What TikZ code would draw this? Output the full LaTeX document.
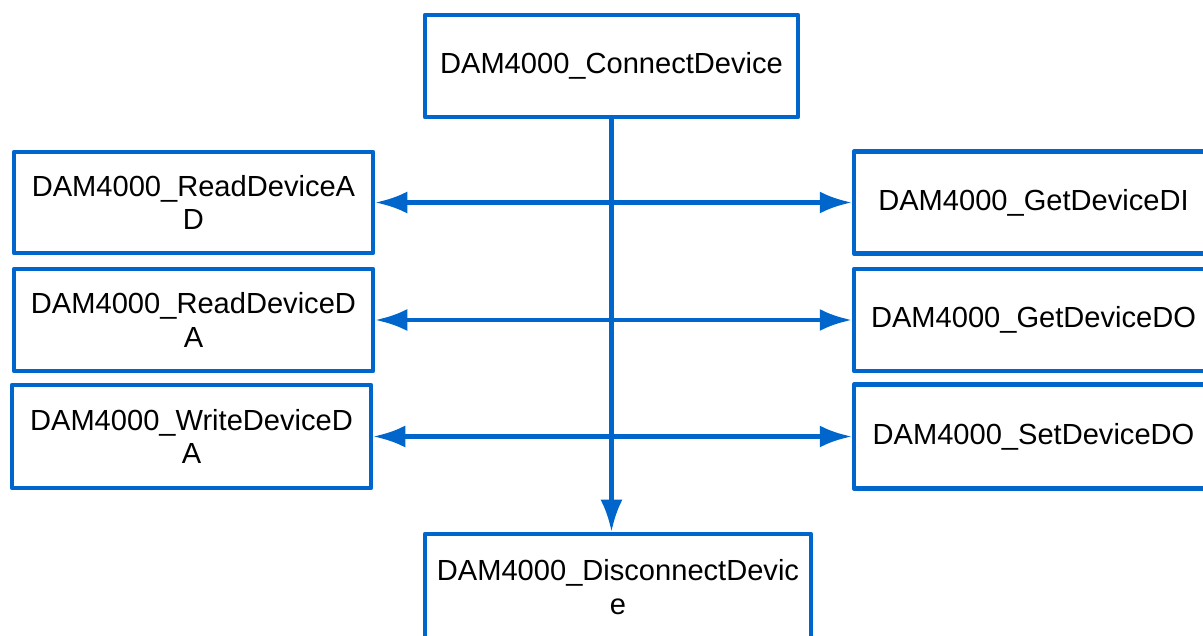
\documentclass[tikz,border=0pt]{standalone}
\usepackage{fontspec}
\setmainfont{Liberation Sans}
\usetikzlibrary{arrows.meta}

\begin{document}
\begin{tikzpicture}[>={Latex[length=32bp,width=22bp]},line join=round,
	box/.style={draw=linecol,line width=4.5bp,fill=white,align=center,inner sep=0pt,
		font=\fontsize{29.2}{33.5}\selectfont},
	link/.style={draw=linecol,line width=4.5bp}]
	\definecolor{linecol}{RGB}{0,102,204}
	\useasboundingbox (0bp,0bp) rectangle (1203bp,636bp);
	\clip (0bp,0bp) rectangle (1203bp,636bp);
	%%
	\node (conn) at (611.5bp,570bp) [box,minimum width=373bp,minimum height=102bp] {DAM4000\_ConnectDevice};
	  \node (disc) at (618bp,49bp) [box,minimum width=386bp,minimum height=106bp] {DAM4000\_DisconnectDevic\\e};
	
	  \node (rdad) at (193.5bp,433.5bp) [box,minimum width=359bp,minimum height=101bp] {DAM4000\_ReadDeviceA\\D};
	  \node (rdda) at (193.5bp,316bp) [box,minimum width=359bp,minimum height=102bp] {DAM4000\_ReadDeviceD\\A};
	  \node (wrda) at (191.5bp,199.5bp) [box,minimum width=359bp,minimum height=103bp] {DAM4000\_WriteDeviceD\\A};
	
	  \node (gtdi) at (1033.5bp,433.5bp) [box,minimum width=359bp,minimum height=102bp] {DAM4000\_GetDeviceDI};
	  \node (gtdo) at (1033.5bp,316bp) [box,minimum width=359bp,minimum height=102bp] {DAM4000\_GetDeviceDO};
	  \node (stdo) at (1033.5bp,199.5bp) [box,minimum width=359bp,minimum height=104bp] {DAM4000\_SetDeviceDO};
	
	  \draw [link,<->] (rdad.east) -- (gtdi.west);
	  \draw [link,<->] (rdda.east) -- (gtdo.west);
	  \draw [link,<->] (wrda.east) -- (stdo.west);
	
	  \draw [link,->] (conn.south) -- (conn.south |- disc.north);
	%
\end{tikzpicture}
\end{document}
